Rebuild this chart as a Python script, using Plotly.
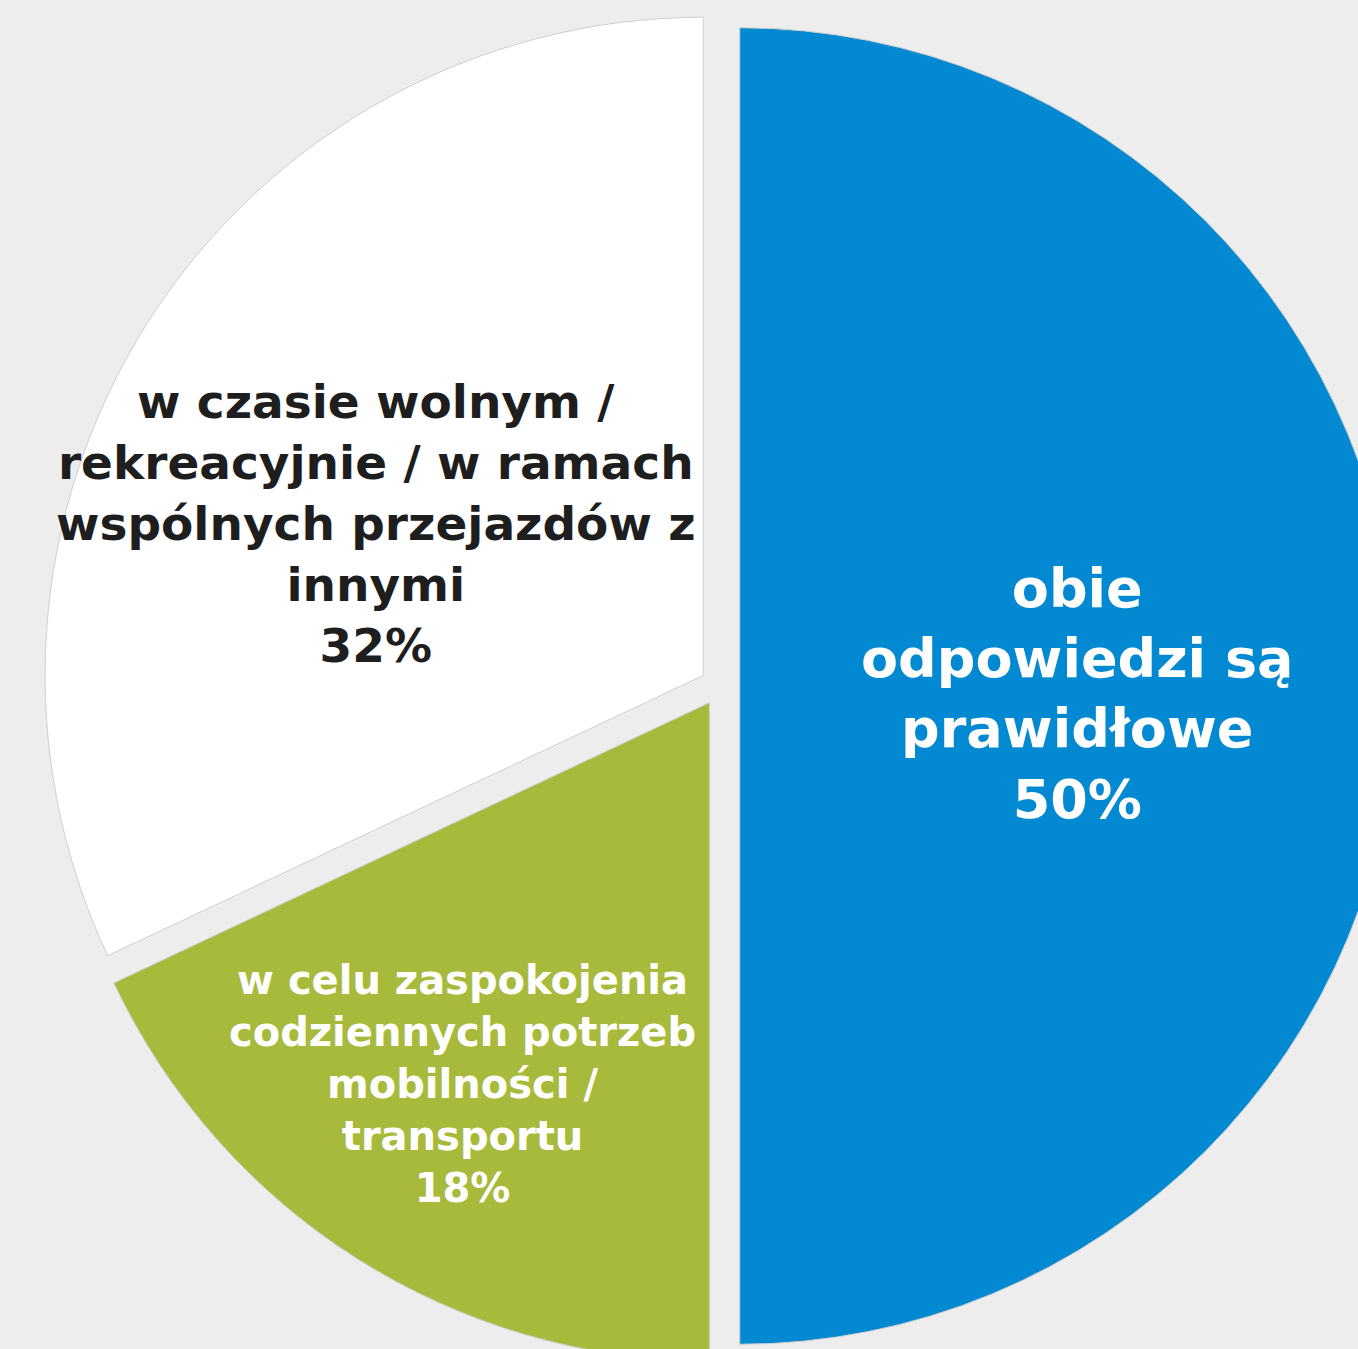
import plotly.graph_objects as go

# --- data ---
labels = [
    "obie<br>odpowiedzi są<br>prawidłowe",
    "w celu zaspokojenia<br>codziennych potrzeb<br>mobilności /<br>transportu",
    "w czasie wolnym /<br>rekreacyjnie / w ramach<br>wspólnych przejazdów z<br>innymi",
]
values = [50, 18, 32]
percent_labels = ["50%", "18%", "32%"]

# --- style ---
slice_colors = ["#0289D2", "#A8BA3C", "#FFFFFF"]
text_colors = ["#FFFFFF", "#FFFFFF", "#1E1E1E"]
text_sizes = [54, 40, 47]
label_pos = [(1077, 694), (462, 1084), (376, 524)]  # pixel centres of the labels

W, H = 1398, 1364
ML, MT = 42, 8
PW, PH = W - ML, H - MT

fig = go.Figure(
    go.Pie(
        labels=[l.replace("<br>", " ") for l in labels],
        values=values,
        sort=False,
        direction="clockwise",
        rotation=0,
        pull=[0.03, 0.03, 0.03],
        marker=dict(colors=slice_colors, line=dict(color="#CFCFCF", width=1)),
        textinfo="none",
        hoverinfo="label+percent",
        showlegend=False,
    )
)

for lab, pct, col, size, (px, py) in zip(labels, percent_labels, text_colors, text_sizes, label_pos):
    fig.add_annotation(
        x=(px - ML) / PW,
        y=1 - (py - MT) / PH,
        xref="paper",
        yref="paper",
        text=f"{lab}<br>{pct}",
        showarrow=False,
        align="center",
        xanchor="center",
        yanchor="middle",
        font=dict(family="DejaVu Sans, sans-serif", size=size, color=col, weight="bold"),
    )

fig.update_layout(
    width=W,
    height=H,
    margin=dict(l=ML, r=0, t=MT, b=0, pad=0),
    paper_bgcolor="#EDEDED",
    plot_bgcolor="#EDEDED",
    showlegend=False,
)

fig.write_html(
    "out.html",
    config={"displayModeBar": False},
    post_script="document.body.style.margin='0';document.body.style.overflow='hidden';document.documentElement.style.overflow='hidden';",
)
